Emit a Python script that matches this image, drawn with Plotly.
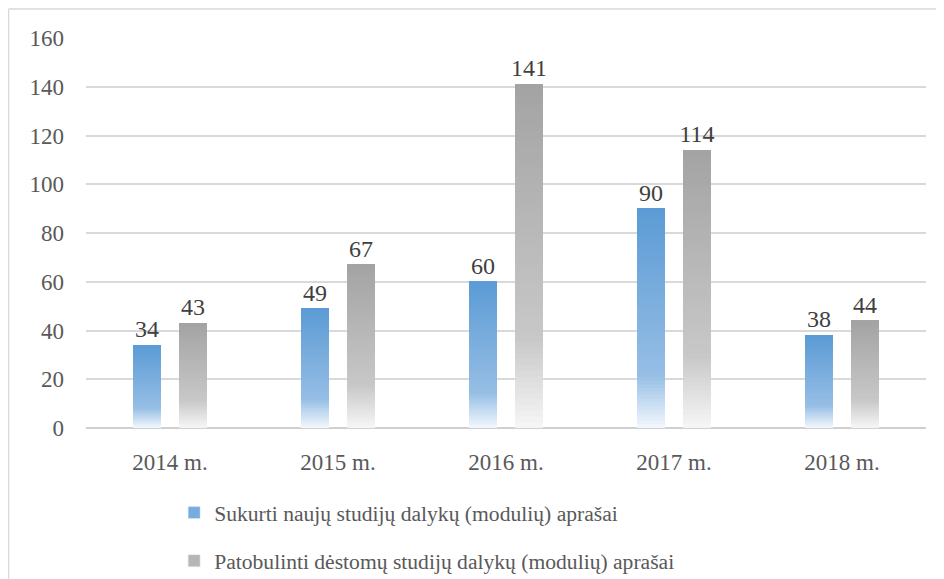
import plotly.graph_objects as go

categories = ["2014 m.", "2015 m.", "2016 m.", "2017 m.", "2018 m."]
new_desc = [34, 49, 60, 90, 38]
improved_desc = [43, 67, 141, 114, 44]
series_names = [
    "Sukurti naujų studijų dalykų (modulių) aprašai",
    "Patobulinti dėstomų studijų dalykų (modulių) aprašai",
]
y_ticks = [0, 20, 40, 60, 80, 100, 120, 140, 160]

FONT = "Liberation Serif, Times New Roman, serif"
TEXT = "#595959"

# gradient stops: (fraction from top, rgb)
blue_stops = [(0.0, (91, 155, 213)), (0.76, (150, 190, 229)), (1.0, (243, 248, 253))]
gray_stops = [(0.0, (163, 163, 163)), (0.74, (200, 200, 200)), (1.0, (247, 247, 247))]


def color_at(stops, t):
    for (t0, c0), (t1, c1) in zip(stops, stops[1:]):
        if t0 <= t <= t1:
            f = (t - t0) / (t1 - t0) if t1 > t0 else 0
            return "rgb(%d,%d,%d)" % tuple(round(a + (b - a) * f) for a, b in zip(c0, c1))
    return "rgb(%d,%d,%d)" % stops[-1][1]


N = 60
WIDTH = 28 / 168
OFFSETS = [-37 / 168, 9 / 168]

fig = go.Figure()
for values, stops, off in [(new_desc, blue_stops, OFFSETS[0]), (improved_desc, gray_stops, OFFSETS[1])]:
    for k in range(N):
        frac = k / N  # fraction from bottom
        col = color_at(stops, 1 - frac - 0.5 / N)
        fig.add_trace(go.Bar(
            x=categories,
            y=[v * (1 - frac) for v in values],
            base=[v * frac for v in values],
            width=WIDTH, offset=off,
            marker=dict(color=col, line=dict(width=0)),
            showlegend=False, hoverinfo="skip",
        ))

# labels (transparent bars)
for values, off in [(new_desc, OFFSETS[0]), (improved_desc, OFFSETS[1])]:
    fig.add_trace(go.Bar(
        x=categories, y=values, width=WIDTH, offset=off,
        marker=dict(color="rgba(0,0,0,0)", line=dict(width=0)),
        text=[str(v) for v in values], textposition="outside", constraintext="none",
        textfont=dict(family=FONT, size=24, color="#404040"),
        cliponaxis=False, showlegend=False, hoverinfo="skip",
    ))

# legend entries
for name, col, grp in [(series_names[0], "rgb(120,172,222)", "a"),
                       (series_names[1], "rgb(182,182,182)", "b")]:
    fig.add_trace(go.Bar(x=[None], y=[None], name=name, legendgroup=grp,
                         marker=dict(color=col)))

fig.update_layout(
    width=944, height=579,
    barmode="overlay",
    paper_bgcolor="white", plot_bgcolor="white",
    margin=dict(l=78, r=26, t=30, b=159, autoexpand=False),
    font=dict(family=FONT, size=22, color=TEXT),
    showlegend=True,
    legend=dict(
        orientation="v", x=0.176, xanchor="left", xref="container",
        y=0.164, yanchor="top", yref="container",
        font=dict(family=FONT, size=21.6, color=TEXT),
        tracegroupgap=17, itemwidth=30,
    ),
    xaxis=dict(
        type="category", showgrid=False, showline=False, zeroline=False,
        ticks="", automargin=False, ticklabelstandoff=18,
        tickfont=dict(family=FONT, size=23, color=TEXT),
    ),
    yaxis=dict(
        range=[0, 160], tickvals=y_ticks, showgrid=True, gridcolor="#D9D9D9",
        gridwidth=1.5, zeroline=True, zerolinecolor="#D0D0D0", zerolinewidth=2,
        showline=False, ticks="", ticklabelstandoff=21, automargin=False,
        tickfont=dict(family=FONT, size=23, color=TEXT),
    ),
    shapes=[
        dict(type="line", xref="paper", yref="paper", x0=-77.5 / 840, x1=1 + 26 / 840,
             y0=1 + 29 / 390, y1=1 + 29 / 390, line=dict(color="#D9D9D9", width=1.5)),
        dict(type="line", xref="paper", yref="paper", x0=-77.5 / 840, x1=-77.5 / 840,
             y0=1 + 29 / 390, y1=-159 / 390, line=dict(color="#D9D9D9", width=1.5)),
    ],
)

fig.write_html("out.html")
